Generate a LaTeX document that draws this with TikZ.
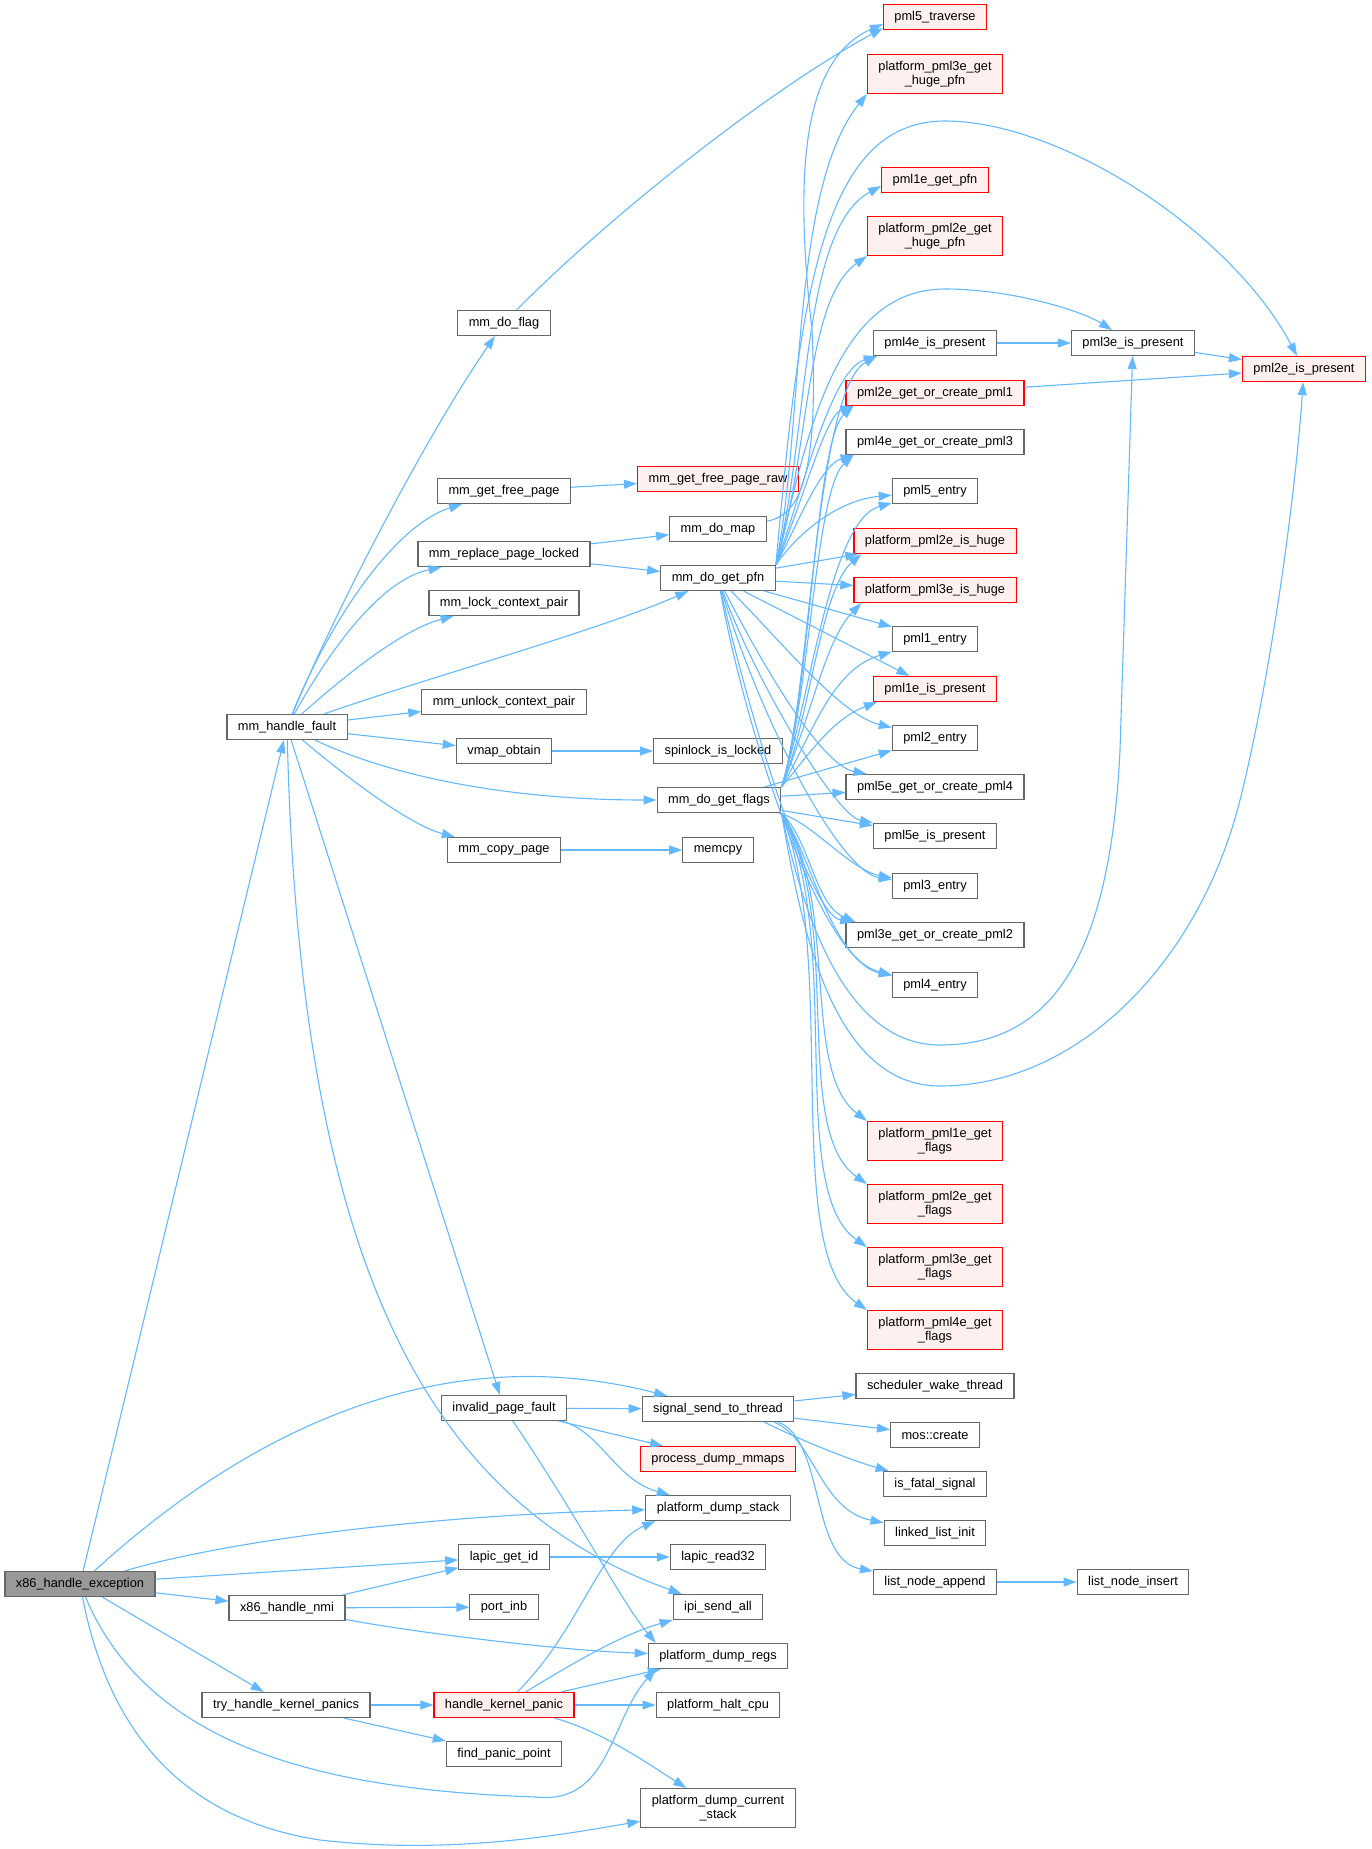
\documentclass[tikz,border=0pt]{standalone}
\usepackage{fontspec}
\setmainfont{Liberation Sans}
\usepackage{tikz}
\usetikzlibrary{arrows.meta}
\definecolor{edgeblue}{HTML}{63B8FF}
\definecolor{nodegray}{HTML}{666666}
\definecolor{rootfill}{HTML}{999999}
\definecolor{redfill}{HTML}{FFF0F0}
\newcommand{\callfont}{\fontsize{12.8}{14.3}\selectfont}
\tikzstyle{fn} = [draw=nodegray, fill=white, line width=1.2pt, inner xsep=11pt, inner ysep=2pt, minimum height=25pt, font=\callfont]
\tikzstyle{fnred} = [fn, draw=red, fill=redfill]
\tikzstyle{fnroot} = [fn, fill=rootfill]
\tikzstyle{twoline} = [align=center, minimum height=39pt]
\tikzstyle{calls} = [draw=edgeblue, line width=1.1pt, -{Triangle[length=13pt, width=9pt]}]

\begin{document}
\begin{tikzpicture}[x=1pt, y=-1pt]
	\useasboundingbox (0, 0) rectangle (1372, 1849);

	% callers
	\node (HandleException) [fnroot] at (80, 1584) {x86\_handle\_exception};
	\node (HandleFault) [fn] at (287, 727) {mm\_handle\_fault};
	\node (HandleNmi) [fn] at (287, 1608) {x86\_handle\_nmi};
	\node (TryPanics) [fn] at (286, 1705) {try\_handle\_kernel\_panics};

	\node (DoFlag) [fn] at (504, 323) {mm\_do\_flag};
	\node (GetFreePage) [fn] at (504, 491) {mm\_get\_free\_page};
	\node (ReplacePage) [fn] at (504, 554) {mm\_replace\_page\_locked};
	\node (LockPair) [fn] at (504, 603) {mm\_lock\_context\_pair};
	\node (UnlockPair) [fn] at (504, 702) {mm\_unlock\_context\_pair};
	\node (VmapObtain) [fn] at (504, 751) {vmap\_obtain};
	\node (CopyPage) [fn] at (504, 850) {mm\_copy\_page};
	\node (InvalidFault) [fn] at (504, 1408) {invalid\_page\_fault};
	\node (LapicId) [fn] at (504, 1557) {lapic\_get\_id};
	\node (PortInb) [fn] at (504, 1607) {port\_inb};
	\node (KernelPanic) [fnred] at (504, 1705) {handle\_kernel\_panic};
	\node (FindPanic) [fn] at (504, 1754) {find\_panic\_point};

	\node (GetFreeRaw) [fnred] at (718, 479) {mm\_get\_free\_page\_raw};
	\node (DoMap) [fn] at (718, 529) {mm\_do\_map};
	\node (GetPfn) [fn] at (718, 578) {mm\_do\_get\_pfn};
	\node (SpinLocked) [fn] at (718, 751) {spinlock\_is\_locked};
	\node (GetFlags) [fn] at (719, 800) {mm\_do\_get\_flags};
	\node (Memcpy) [fn] at (718, 850) {memcpy};
	\node (SignalSend) [fn] at (718, 1409) {signal\_send\_to\_thread};
	\node (DumpMmaps) [fnred] at (718, 1459) {process\_dump\_mmaps};
	\node (DumpStack) [fn] at (718, 1508) {platform\_dump\_stack};
	\node (LapicRead) [fn] at (718, 1557) {lapic\_read32};
	\node (IpiSend) [fn] at (718, 1607) {ipi\_send\_all};
	\node (DumpRegs) [fn] at (718, 1656) {platform\_dump\_regs};
	\node (HaltCpu) [fn] at (718, 1705) {platform\_halt\_cpu};
	\node (DumpCurStack) [fn, twoline] at (718, 1808) {platform\_dump\_current\\\_stack};

	% page table helpers
	\node (Traverse) [fnred] at (935, 17) {pml5\_traverse};
	\node (HugePfn3) [fnred, twoline] at (935, 74) {platform\_pml3e\_get\\\_huge\_pfn};
	\node (GetPfn1) [fnred] at (935, 180) {pml1e\_get\_pfn};
	\node (HugePfn2) [fnred, twoline] at (935, 236) {platform\_pml2e\_get\\\_huge\_pfn};
	\node (Pml4Present) [fn] at (935, 343) {pml4e\_is\_present};
	\node (CreatePml1) [fnred] at (935, 393) {pml2e\_get\_or\_create\_pml1};
	\node (CreatePml3) [fn] at (935, 442) {pml4e\_get\_or\_create\_pml3};
	\node (Pml5Entry) [fn] at (935, 491) {pml5\_entry};
	\node (IsHuge2) [fnred] at (935, 541) {platform\_pml2e\_is\_huge};
	\node (IsHuge3) [fnred] at (935, 590) {platform\_pml3e\_is\_huge};
	\node (Pml1Entry) [fn] at (935, 639) {pml1\_entry};
	\node (Pml1Present) [fnred] at (935, 689) {pml1e\_is\_present};
	\node (Pml2Entry) [fn] at (935, 738) {pml2\_entry};
	\node (CreatePml4) [fn] at (935, 787) {pml5e\_get\_or\_create\_pml4};
	\node (Pml5Present) [fn] at (935, 836) {pml5e\_is\_present};
	\node (Pml3Entry) [fn] at (935, 886) {pml3\_entry};
	\node (CreatePml2) [fn] at (935, 935) {pml3e\_get\_or\_create\_pml2};
	\node (Pml4Entry) [fn] at (935, 985) {pml4\_entry};
	\node (Flags1) [fnred, twoline] at (935, 1141) {platform\_pml1e\_get\\\_flags};
	\node (Flags2) [fnred, twoline] at (935, 1204) {platform\_pml2e\_get\\\_flags};
	\node (Flags3) [fnred, twoline] at (935, 1267) {platform\_pml3e\_get\\\_flags};
	\node (Flags4) [fnred, twoline] at (935, 1330) {platform\_pml4e\_get\\\_flags};
	\node (WakeThread) [fn] at (935, 1386) {scheduler\_wake\_thread};
	\node (MosCreate) [fn] at (935, 1435) {mos::create};
	\node (FatalSignal) [fn] at (935, 1484) {is\_fatal\_signal};
	\node (ListInit) [fn] at (935, 1533) {linked\_list\_init};
	\node (NodeAppend) [fn] at (935, 1582) {list\_node\_append};

	\node (Pml3Present) [fn] at (1133, 343) {pml3e\_is\_present};
	\node (NodeInsert) [fn] at (1133, 1582) {list\_node\_insert};
	\node (Pml2Present) [fnred] at (1304, 369) {pml2e\_is\_present};

	% x86_handle_exception
	\draw [calls] (HandleException) -- (HandleFault);
	\draw [calls] (HandleException) .. controls (260, 1420) and (450, 1340) .. (SignalSend);
	\draw [calls] (HandleException) .. controls (230, 1540) and (430, 1515) .. (DumpStack);
	\draw [calls] (HandleException) -- (LapicId);
	\draw [calls] (HandleException) -- (HandleNmi);
	\draw [calls] (HandleException) -- (TryPanics);
	\draw [calls] (HandleException) .. controls (150, 1750) and (330, 1790) .. (536, 1797) .. controls (610, 1805) and (610, 1720) .. ([xshift=8pt]DumpRegs.south west);
	\draw [calls] (HandleException) .. controls (110, 1740) and (190, 1820) .. (320, 1840) .. controls (450, 1855) and (560, 1835) .. (DumpCurStack);

	% mm_handle_fault
	\draw [calls] (HandleFault) .. controls (340, 600) and (430, 430) .. (DoFlag);
	\draw [calls] (HandleFault) .. controls (330, 620) and (395, 525) .. (GetFreePage);
	\draw [calls] (HandleFault) .. controls (330, 650) and (380, 580) .. (ReplacePage);
	\draw [calls] (HandleFault) .. controls (340, 680) and (400, 630) .. (LockPair);
	\draw [calls] (HandleFault) .. controls (420, 680) and (600, 630) .. (GetPfn);
	\draw [calls] (HandleFault) -- (UnlockPair);
	\draw [calls] (HandleFault) -- (VmapObtain);
	\draw [calls] (HandleFault) .. controls (400, 780) and (520, 800) .. (GetFlags);
	\draw [calls] (HandleFault) .. controls (350, 780) and (410, 825) .. (CopyPage);
	\draw [calls] (HandleFault) -- (InvalidFault);
	\draw [calls] (HandleFault) .. controls (300, 1250) and (420, 1500) .. (IpiSend);

	\draw [calls] (DoFlag) .. controls (600, 225) and (760, 95) .. ([yshift=2pt]Traverse.south west);
	\draw [calls] (GetFreePage) -- (GetFreeRaw);
	\draw [calls] (ReplacePage) -- (DoMap);
	\draw [calls] (ReplacePage) -- (GetPfn);
	\draw [calls] (VmapObtain) -- (SpinLocked);
	\draw [calls] (CopyPage) -- (Memcpy);
	\draw [calls] (DoMap) .. controls (805, 515) and (818, 460) .. (812, 330) .. controls (795, 180) and (800, 60) .. ([yshift=6pt]Traverse.south west);

	% mm_do_get_pfn
	\draw [calls] (GetPfn.north east) .. controls (805, 420) and (790, 190) .. (HugePfn3.south west);
	\draw [calls] (GetPfn.north east) .. controls (810, 430) and (800, 230) .. ([yshift=-6pt]GetPfn1.west);
	\draw [calls] (GetPfn.north east) .. controls (810, 450) and (805, 300) .. (HugePfn2.south west);
	\draw [calls] (GetPfn.north east) .. controls (800, 300) and (820, 121) .. (945, 121) .. controls (1060, 121) and (1230, 230) .. (Pml2Present);
	\draw [calls] (GetPfn.north east) .. controls (805, 450) and (830, 289) .. (945, 289) .. controls (1010, 289) and (1080, 310) .. (Pml3Present);
	\draw [calls] (GetPfn.north east) .. controls (800, 500) and (830, 370) .. ([xshift=4pt]Pml4Present.south west);
	\draw [calls] (GetPfn.north east) .. controls (800, 510) and (825, 415) .. ([xshift=8pt]CreatePml1.south west);
	\draw [calls] (GetPfn.north east) .. controls (795, 530) and (820, 465) .. ([xshift=8pt]CreatePml3.south west);
	\draw [calls] (GetPfn.north east) .. controls (800, 530) and (840, 500) .. (Pml5Entry);
	\draw [calls] (GetPfn) -- (IsHuge2);
	\draw [calls] (GetPfn) -- (IsHuge3);
	\draw [calls] (GetPfn) -- (Pml1Entry);
	\draw [calls] (GetPfn) -- (Pml1Present);
	\draw [calls] (GetPfn) .. controls (780, 640) and (840, 715) .. (Pml2Entry);
	\draw [calls] (GetPfn) .. controls (760, 660) and (820, 765) .. (CreatePml4);
	\draw [calls] (GetPfn) .. controls (755, 680) and (835, 815) .. (Pml5Present);
	\draw [calls] (GetPfn) .. controls (760, 720) and (840, 872) .. (Pml3Entry);
	\draw [calls] (GetPfn) .. controls (750, 720) and (810, 915) .. (CreatePml2);
	\draw [calls] (GetPfn) .. controls (745, 730) and (820, 960) .. (Pml4Entry);

	% mm_do_get_flags
	\draw [calls] (GetFlags.north east) .. controls (810, 700) and (815, 390) .. ([xshift=4pt]Pml4Present.south west);
	\draw [calls] (GetFlags.north east) .. controls (810, 700) and (815, 440) .. ([xshift=8pt]CreatePml1.south west);
	\draw [calls] (GetFlags.north east) .. controls (810, 700) and (815, 490) .. ([xshift=8pt]CreatePml3.south west);
	\draw [calls] (GetFlags.north east) .. controls (810, 700) and (830, 520) .. (Pml5Entry);
	\draw [calls] (GetFlags.north east) .. controls (810, 720) and (820, 590) .. ([xshift=8pt]IsHuge2.south west);
	\draw [calls] (GetFlags.north east) .. controls (810, 720) and (825, 640) .. ([xshift=8pt]IsHuge3.south west);
	\draw [calls] (GetFlags.north east) .. controls (810, 740) and (830, 670) .. (Pml1Entry);
	\draw [calls] (GetFlags.north east) .. controls (805, 760) and (830, 720) .. ([xshift=4pt]Pml1Present.south west);
	\draw [calls] (GetFlags) -- (Pml2Entry);
	\draw [calls] (GetFlags) -- (CreatePml4);
	\draw [calls] (GetFlags) -- (Pml5Present);
	\draw [calls] (GetFlags) .. controls (810, 820) and (850, 870) .. (Pml3Entry);
	\draw [calls] (GetFlags.south east) .. controls (810, 840) and (815, 905) .. ([xshift=10pt]CreatePml2.north west);
	\draw [calls] (GetFlags.south east) .. controls (810, 850) and (830, 960) .. (Pml4Entry);
	\draw [calls] (GetFlags.south east) .. controls (840, 900) and (800, 1070) .. (Flags1.north west);
	\draw [calls] (GetFlags.south east) .. controls (845, 920) and (790, 1130) .. (Flags2.north west);
	\draw [calls] (GetFlags.south east) .. controls (845, 940) and (785, 1190) .. (Flags3.north west);
	\draw [calls] (GetFlags.south east) .. controls (840, 960) and (780, 1250) .. (Flags4.north west);
	\draw [calls] (GetFlags.south east) .. controls (800, 900) and (840, 1045) .. (940, 1045) .. controls (1050, 1045) and (1110, 960) .. (1120, 750) -- (Pml3Present);
	\draw [calls] (GetFlags.south east) .. controls (800, 920) and (830, 1086) .. (940, 1086) .. controls (1080, 1086) and (1200, 960) .. (1240, 800) .. controls (1270, 680) and (1295, 500) .. (Pml2Present);

	\draw [calls] (Pml4Present) -- (Pml3Present);
	\draw [calls] (Pml3Present) -- (Pml2Present);
	\draw [calls] (CreatePml1) -- (Pml2Present);

	% invalid_page_fault and friends
	\draw [calls] (InvalidFault) -- (SignalSend);
	\draw [calls] (InvalidFault) -- (DumpMmaps);
	\draw [calls] (InvalidFault) .. controls (600, 1430) and (615, 1480) .. (DumpStack);
	\draw [calls] (InvalidFault) .. controls (580, 1520) and (620, 1600) .. ([xshift=8pt]DumpRegs.north west);
	\draw [calls] (LapicId) -- (LapicRead);
	\draw [calls] (HandleNmi) -- (LapicId);
	\draw [calls] (HandleNmi) -- (PortInb);
	\draw [calls] (HandleNmi) .. controls (400, 1630) and (550, 1650) .. (DumpRegs);
	\draw [calls] (TryPanics) -- (KernelPanic);
	\draw [calls] (TryPanics) -- (FindPanic);
	\draw [calls] (KernelPanic) .. controls (580, 1630) and (600, 1545) .. ([xshift=10pt]DumpStack.south west);
	\draw [calls] (KernelPanic) .. controls (570, 1665) and (620, 1635) .. (IpiSend);
	\draw [calls] (KernelPanic) -- (DumpRegs);
	\draw [calls] (KernelPanic) -- (HaltCpu);
	\draw [calls] (KernelPanic) .. controls (600, 1730) and (650, 1765) .. (DumpCurStack);

	% signal_send_to_thread
	\draw [calls] (SignalSend) -- (WakeThread);
	\draw [calls] (SignalSend) -- (MosCreate);
	\draw [calls] ([xshift=-30pt]SignalSend.south east) .. controls (800, 1440) and (850, 1460) .. (FatalSignal);
	\draw [calls] ([xshift=-20pt]SignalSend.south east) .. controls (815, 1440) and (820, 1510) .. (ListInit);
	\draw [calls] ([xshift=-16pt]SignalSend.south east) .. controls (825, 1440) and (810, 1560) .. (NodeAppend);
	\draw [calls] (NodeAppend) -- (NodeInsert);

\end{tikzpicture}
\end{document}
